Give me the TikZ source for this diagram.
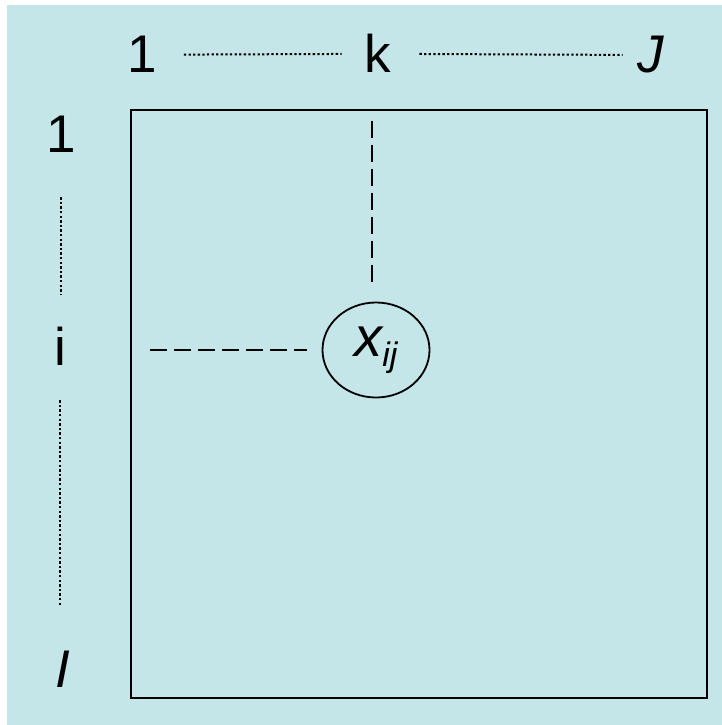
\documentclass[tikz,border=0pt]{standalone}
\usepackage{fontspec}
\setmainfont{Liberation Sans}
\usetikzlibrary{shapes.geometric}

\begin{document}
\begin{tikzpicture}[x=1pt, y=-1pt,
  lbl/.style={anchor=base, inner sep=0pt, font=\fontsize{53}{60}\selectfont},
  dotline/.style={line width=2pt, dash pattern=on 2.3pt off 2.3pt},
  dashline/.style={line width=2.2pt, dash pattern=on 17pt off 7pt}]
\useasboundingbox (0,0) rectangle (722,725);
\fill[fill={rgb,255:red,196;green,230;blue,232}] (7,5) rectangle (722,725);
% matrix frame
\node[draw, line width=2.4pt, minimum width=576, minimum height=588, inner sep=0pt] (mat) at (419,404) {};
% column labels
\node[lbl] (c1) at (142,73) {1};
\node[lbl] (ck) at (378,73) {k};
\node[lbl] (cJ) at (651,73) {\itshape J};
% row labels
\node[lbl] (r1) at (61,152) {1};
\node[lbl] (ri) at (60,365) {i};
\node[lbl] (rI) at (63,687) {\itshape I};
% element
\node[draw, ellipse, line width=1.8pt, minimum width=107, minimum height=95, inner sep=0pt,
  font=\fontsize{56}{60}\selectfont] (xij) at (376,350)
  {\itshape x\raisebox{-10pt}{\fontsize{34}{34}\selectfont ij}};
\coordinate (kcol) at (372,121);
\coordinate (irow) at (150,350);
\draw[dotline, shorten <=27pt, shorten >=23pt] (c1) -- (ck);
\draw[dotline, shorten <=28pt, shorten >=15pt] (ck) -- (cJ);
\draw[dotline, shorten <=45pt, shorten >=31pt] (r1.south) -- (r1.south |- ri.north);
\draw[dotline, shorten <=35pt, shorten >=45pt] (ri.south) -- (ri.south |- rI.north);
\draw[dashline, shorten >=16pt] (kcol) -- (kcol |- xij.north);
\draw[dashline, shorten >=15pt] (irow) -- (irow -| xij.west);
\end{tikzpicture}
\end{document}
